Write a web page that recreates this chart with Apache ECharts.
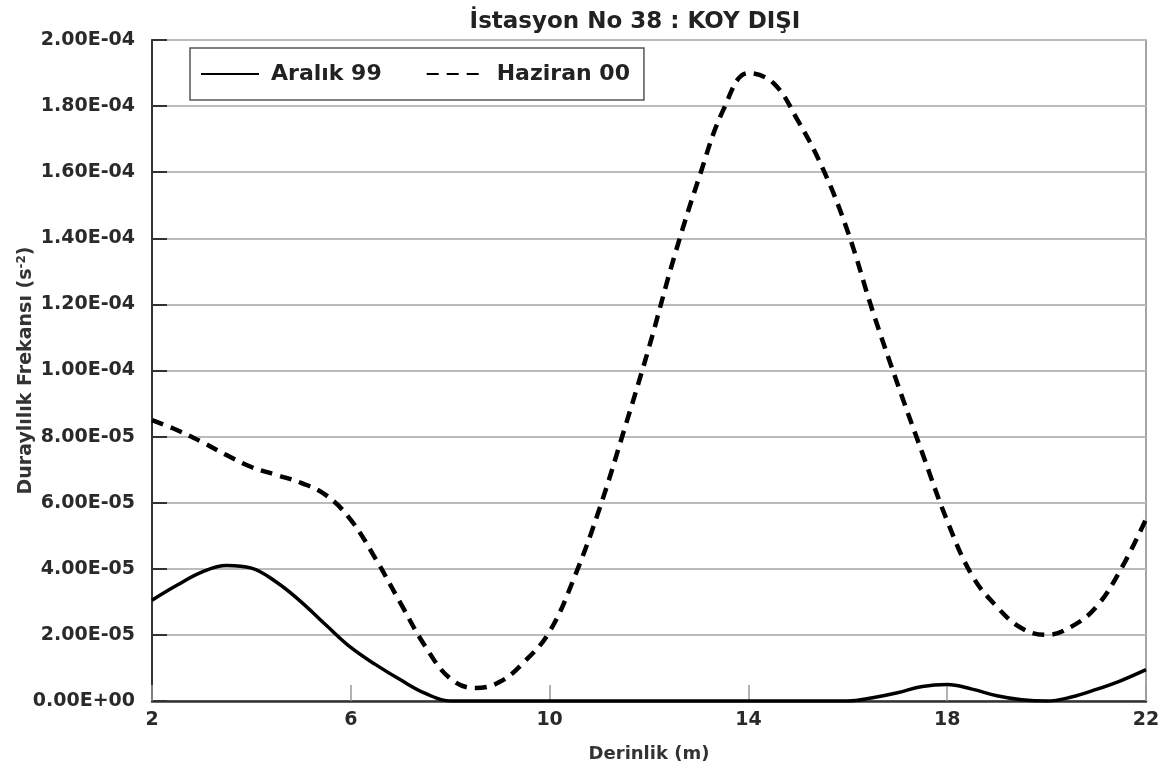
<!DOCTYPE html>
<html>
<head>
<meta charset="utf-8">
<script src="https://cdn.jsdelivr.net/npm/echarts@6/dist/echarts.min.js"></script>
<style>
  html, body { margin: 0; padding: 0; background: #fff; }
  #chart { width: 1164px; height: 776px; }
</style>
</head>
<body>
<div id="chart"></div>
<script>
  // derinlik (m)
  var depth = [2, 2.5, 3, 3.5, 4, 4.5, 5, 5.5, 6, 6.5, 7, 7.5, 8, 8.5, 9, 9.5, 10, 10.5, 11, 11.5,
    12, 12.5, 13, 13.5, 14, 14.5, 15, 15.5, 16, 16.5, 17, 17.5, 18, 18.5, 19, 19.5, 20, 20.5, 21, 21.5, 22]

  // Aralık 99
  var aralik99 = [3.05e-5, 3.5e-5, 3.9e-5, 4.1e-5, 4.02e-5, 3.6e-5, 3.0e-5, 2.3e-5, 1.62e-5, 1.1e-5,
    6.4e-6, 2.3e-6, 0, 0, 0, 0, 0, 0, 0, 0,
    0, 0, 0, 0, 0, 0, 0, 0, 0, 1.0e-6,
    2.5e-6, 4.4e-6, 5.0e-6, 3.6e-6, 1.6e-6, 4e-7, 0, 1.2e-6, 3.5e-6, 6.2e-6, 9.5e-6]

  // Haziran 00
  var haziran00 = [8.5e-5, 8.2e-5, 7.84e-5, 7.44e-5, 7.08e-5, 6.84e-5, 6.6e-5, 6.23e-5, 5.48e-5, 4.3e-5,
    2.96e-5, 1.65e-5, 6.8e-6, 3.9e-6, 5.8e-6, 1.2e-5, 2.1e-5, 3.75e-5, 5.8e-5, 8.2e-5,
    1.07e-4, 1.34e-4, 1.58e-4, 1.79e-4, 1.9e-4, 1.87e-4, 1.755e-4, 1.61e-4, 1.42e-4, 1.18e-4,
    9.6e-5, 7.5e-5, 5.45e-5, 3.8e-5, 2.85e-5, 2.2e-5, 2.0e-5, 2.25e-5, 2.85e-5, 4.0e-5, 5.5e-5]

  var xTicks = [2, 6, 10, 14, 18, 22]
  var yTickLabels = ['0.00E+00', '2.00E-05', '4.00E-05', '6.00E-05', '8.00E-05', '1.00E-04',
    '1.20E-04', '1.40E-04', '1.60E-04', '1.80E-04', '2.00E-04']

  var fontName = '"DejaVu Sans", "Liberation Sans", sans-serif'

  function pairs (ys) {
    return depth.map(function (x, i) { return [x, ys[i]] })
  }

  var option = {
    animation: false,
    backgroundColor: '#fff',
    title: {
      text: 'İstasyon No 38 : KOY DIŞI',
      left: 630,
      textAlign: 'center',
      top: 6,
      textStyle: { fontFamily: fontName, fontSize: 23, fontWeight: 'bold', color: '#222' }
    },
    legend: {
      left: 190,
      top: 48,
      padding: [15, 14, 15, 10],
      itemGap: 44,
      itemWidth: 58,
      itemHeight: 14,
      borderColor: '#555',
      borderWidth: 1.5,
      backgroundColor: '#fff',
      itemStyle: { opacity: 0 },
      textStyle: { fontFamily: fontName, fontSize: 22, fontWeight: 'bold', color: '#222', padding: [0, 0, 0, 7] },
      data: ['Aralık 99', 'Haziran 00']
    },
    grid: {
      left: 152,
      right: 18,
      top: 40,
      bottom: 75,
      show: true,
      borderColor: '#888',
      borderWidth: 1.5
    },
    xAxis: {
      type: 'value',
      min: 2,
      max: 22,
      name: 'Derinlik (m)',
      nameLocation: 'middle',
      nameGap: 44,
      nameTextStyle: { fontFamily: fontName, fontSize: 18, fontWeight: 'bold', color: '#333' },
      axisLine: { lineStyle: { color: '#333', width: 2.5 } },
      axisTick: { show: true, inside: true, length: 16, customValues: xTicks, lineStyle: { color: '#999', width: 1.5 } },
      axisLabel: { customValues: xTicks, margin: 10, fontFamily: fontName, fontSize: 19, fontWeight: 'bold', color: '#2a2a2a' },
      splitLine: { show: false }
    },
    yAxis: {
      type: 'value',
      min: 0,
      max: 2e-4,
      interval: 2e-5,
      name: 'Duraylılık Frekansı (s{sup|-2})',
      nameLocation: 'middle',
      nameGap: 115,
      nameMoveOverlap: false,
      nameTextStyle: {
        fontFamily: fontName, fontSize: 19, fontWeight: 'bold', color: '#333',
        rich: {
          sup: { fontFamily: fontName, fontSize: 12, fontWeight: 'bold', color: '#333', padding: [0, 0, 9, 0] }
        }
      },
      axisLine: { lineStyle: { color: '#333', width: 2 } },
      axisTick: { show: true, inside: true, length: 15, lineStyle: { color: '#333', width: 2 } },
      axisLabel: {
        margin: 17,
        fontFamily: fontName, fontSize: 19, fontWeight: 'bold', color: '#2a2a2a',
        formatter: function (v, i) { return yTickLabels[i] }
      },
      splitLine: { lineStyle: { color: '#bbb', width: 2 } }
    },
    series: [
      {
        name: 'Aralık 99',
        type: 'line',
        data: pairs(aralik99),
        smooth: 0.4,
        symbol: 'none',
        lineStyle: { color: '#000', width: 3.5 },
        itemStyle: { color: '#000' }
      },
      {
        name: 'Haziran 00',
        type: 'line',
        data: pairs(haziran00),
        smooth: 0.4,
        symbol: 'none',
        lineStyle: { color: '#000', width: 4.5, type: [12, 8] },
        itemStyle: { color: '#000' }
      }
    ]
  }

  var myChart = echarts.init(document.getElementById('chart'))
  myChart.setOption(option)
</script>
</body>
</html>
